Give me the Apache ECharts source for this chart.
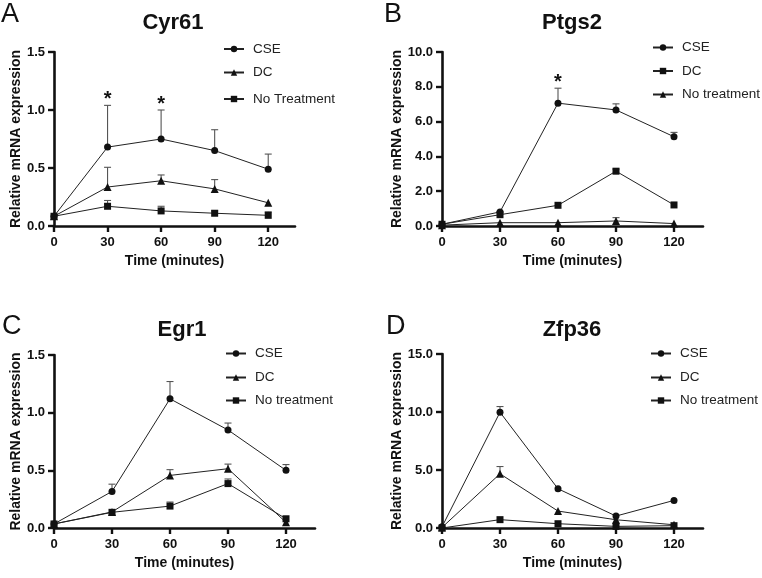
<!DOCTYPE html>
<html>
<head>
<meta charset="utf-8">
<script src="https://cdn.jsdelivr.net/npm/echarts@6/dist/echarts.min.js"></script>
<style>
html,body{margin:0;padding:0;background:#fff;}
#chart{width:762px;height:578px;}
</style>
</head>
<body>
<div id="chart"></div>
<script>
// ---------- data ----------
const timePoints = [0, 30, 60, 90, 120];
const xTicks = [0, 30, 60, 90, 120];

// Panel A: Cyr61
const cyr61_CSE = [0.084, 0.68, 0.75, 0.65, 0.49];
const cyr61_CSE_err = [0, 0.36, 0.25, 0.18, 0.13];
const cyr61_DC = [0.084, 0.336, 0.39, 0.32, 0.20];
const cyr61_DC_err = [0, 0.17, 0.05, 0.08, 0];
const cyr61_NT = [0.084, 0.17, 0.13, 0.11, 0.092];
const cyr61_NT_err = [0, 0.05, 0.04, 0.02, 0.03];
const cyr61_sig = [30, 60];

// Panel B: Ptgs2
const ptgs2_CSE = [0.10, 0.81, 7.06, 6.67, 5.13];
const ptgs2_CSE_err = [0, 0.05, 0.86, 0.35, 0.25];
const ptgs2_DC = [0.10, 0.65, 1.19, 3.15, 1.21];
const ptgs2_DC_err = [0, 0.05, 0.05, 0.12, 0.05];
const ptgs2_NT = [0.05, 0.19, 0.19, 0.29, 0.14];
const ptgs2_NT_err = [0, 0.02, 0.02, 0.19, 0.02];
const ptgs2_sig = [60];

// Panel C: Egr1
const egr1_CSE = [0.035, 0.317, 1.12, 0.85, 0.50];
const egr1_CSE_err = [0, 0.063, 0.15, 0.06, 0.05];
const egr1_DC = [0.035, 0.139, 0.456, 0.514, 0.049];
const egr1_DC_err = [0, 0.01, 0.05, 0.04, 0.01];
const egr1_NT = [0.035, 0.136, 0.19, 0.385, 0.08];
const egr1_NT_err = [0, 0.01, 0.035, 0.04, 0.01];
const egr1_sig = [];

// Panel D: Zfp36
const zfp36_CSE = [0.1, 9.98, 3.38, 1.03, 2.38];
const zfp36_CSE_err = [0, 0.49, 0.1, 0.1, 0.05];
const zfp36_DC = [0.05, 4.67, 1.46, 0.71, 0.28];
const zfp36_DC_err = [0, 0.63, 0.05, 0.05, 0.05];
const zfp36_NT = [0.0, 0.72, 0.37, 0.14, 0.20];
const zfp36_NT_err = [0, 0.05, 0.05, 0.05, 0.05];
const zfp36_sig = [];

const panelTitles = ['Cyr61', 'Ptgs2', 'Egr1', 'Zfp36'];
const panelLetters = ['A', 'B', 'C', 'D'];
const yMaxes = [1.5, 10, 1.5, 15];
const yIntervals = [0.5, 2, 0.5, 5];

// ---------- layout / style ----------
const FONT = '"Liberation Sans", Arial, Helvetica, sans-serif';
const INK = '#111';

const panels = [
  { key: 'A', grid: { left: 54, top: 52, width: 241, height: 174 }, nameGap: 30,
    title: [173, 23], letter: [1, 15], legendX: 223, legendY: [50, 73.5, 100],
    series: [
      { name: 'CSE', v: cyr61_CSE, e: cyr61_CSE_err, sym: 'circle' },
      { name: 'DC', v: cyr61_DC, e: cyr61_DC_err, sym: 'triangle' },
      { name: 'No Treatment', v: cyr61_NT, e: cyr61_NT_err, sym: 'rect' }
    ], sig: cyr61_sig },
  { key: 'B', grid: { left: 442, top: 52, width: 261, height: 174 }, nameGap: 38,
    title: [572, 23], letter: [384, 15], legendX: 652, legendY: [48.5, 72, 95.5],
    series: [
      { name: 'CSE', v: ptgs2_CSE, e: ptgs2_CSE_err, sym: 'circle' },
      { name: 'DC', v: ptgs2_DC, e: ptgs2_DC_err, sym: 'rect' },
      { name: 'No treatment', v: ptgs2_NT, e: ptgs2_NT_err, sym: 'triangle' }
    ], sig: ptgs2_sig },
  { key: 'C', grid: { left: 54, top: 355, width: 261, height: 173 }, nameGap: 30,
    title: [182, 330], letter: [2, 326.5], legendX: 225, legendY: [354.5, 378.5, 401.5],
    series: [
      { name: 'CSE', v: egr1_CSE, e: egr1_CSE_err, sym: 'circle' },
      { name: 'DC', v: egr1_DC, e: egr1_DC_err, sym: 'triangle' },
      { name: 'No treatment', v: egr1_NT, e: egr1_NT_err, sym: 'rect' }
    ], sig: egr1_sig },
  { key: 'D', grid: { left: 442, top: 354, width: 261, height: 174 }, nameGap: 38,
    title: [572, 330], letter: [386, 326.5], legendX: 650, legendY: [354.5, 378.5, 401.5],
    series: [
      { name: 'CSE', v: zfp36_CSE, e: zfp36_CSE_err, sym: 'circle' },
      { name: 'DC', v: zfp36_DC, e: zfp36_DC_err, sym: 'triangle' },
      { name: 'No treatment', v: zfp36_NT, e: zfp36_NT_err, sym: 'rect' }
    ], sig: zfp36_sig }
];

const grids = [], xAxes = [], yAxes = [], series = [], legends = [], graphics = [];

panels.forEach((p, i) => {
  grids.push(Object.assign({ containLabel: false }, p.grid));
  xAxes.push({
    type: 'value', gridIndex: i, min: 0, max: 135,
    name: 'Time (minutes)', nameLocation: 'middle', nameGap: 28,
    nameTextStyle: { fontFamily: FONT, fontWeight: 'bold', fontSize: 14, color: INK },
    axisLine: { lineStyle: { color: INK, width: 2.6 } },
    axisTick: { show: true, length: 6, lineStyle: { color: INK, width: 2.4 }, customValues: xTicks },
    axisLabel: { customValues: xTicks, margin: 10, fontFamily: FONT, fontWeight: 'bold', fontSize: 13, color: INK },
    splitLine: { show: false }
  });
  const dec = 1;
  yAxes.push({
    type: 'value', gridIndex: i, min: 0, max: yMaxes[i], interval: yIntervals[i],
    name: 'Relative mRNA expression', nameLocation: 'middle', nameGap: p.nameGap,
    nameTextStyle: { fontFamily: FONT, fontWeight: 'bold', fontSize: 14, color: INK },
    axisLine: { show: true, lineStyle: { color: INK, width: 2.6 } },
    axisTick: { show: true, length: 6, lineStyle: { color: INK, width: 2.4 } },
    axisLabel: { margin: 9, fontFamily: FONT, fontWeight: 'bold', fontSize: 13, color: INK,
      formatter: v => v.toFixed(dec) },
    splitLine: { show: false }
  });

  // error bars (drawn below lines)
  p.series.forEach(s => {
    series.push({
      type: 'custom', xAxisIndex: i, yAxisIndex: i, silent: true, z: 1,
      data: timePoints.map((t, k) => [t, s.v[k], s.v[k] + s.e[k]]),
      renderItem: (params, api) => {
        const a = api.coord([api.value(0), api.value(1)]);
        const b = api.coord([api.value(0), api.value(2)]);
        if (a[1] - b[1] < 1.5) return null;
        const st = { stroke: '#555', lineWidth: 1.1 };
        return { type: 'group', children: [
          { type: 'line', shape: { x1: a[0], y1: a[1], x2: b[0], y2: b[1] }, style: st },
          { type: 'line', shape: { x1: b[0] - 3.5, y1: b[1], x2: b[0] + 3.5, y2: b[1] }, style: st }
        ] };
      }
    });
  });

  // lines with markers
  p.series.forEach(s => {
    series.push({
      type: 'line', name: p.key + ':' + s.name, xAxisIndex: i, yAxisIndex: i, z: 3,
      data: timePoints.map((t, k) => [t, s.v[k]]),
      symbol: s.sym, symbolSize: s.sym === 'triangle' ? 8 : 7,
      showAllSymbol: true, clip: false,
      lineStyle: { color: '#222', width: 1 },
      itemStyle: { color: INK, borderWidth: 0 },
      emphasis: { disabled: true }
    });
  });

  // significance asterisks above the CSE error bar
  const cse = p.series[0];
  series.push({
    type: 'custom', xAxisIndex: i, yAxisIndex: i, silent: true, z: 4,
    data: p.sig.map(t => { const k = timePoints.indexOf(t); return [t, cse.v[k] + cse.e[k]]; }),
    renderItem: (params, api) => {
      const c = api.coord([api.value(0), api.value(1)]);
      return { type: 'text', x: c[0], y: c[1] - 6, style: { text: '*', align: 'center', verticalAlign: 'middle',
        font: 'bold 20px ' + FONT, fill: INK } };
    }
  });

  // legends (one per entry)
  p.series.forEach((s, j) => {
    legends.push({
      data: [p.key + ':' + s.name], left: p.legendX, top: p.legendY[j] - 8,
      orient: 'vertical', padding: 0, itemGap: 0, itemWidth: 20, itemHeight: 8,
      selectedMode: false,
      formatter: n => n.split(':')[1],
      textStyle: { fontFamily: FONT, fontSize: 13.5, color: '#222', padding: [0, 0, 0, 4] }
    });
  });

  graphics.push({ type: 'text', x: p.title[0], y: p.title[1],
    style: { text: panelTitles[i], align: 'center', verticalAlign: 'middle', font: 'bold 22px ' + FONT, fill: INK } });
  graphics.push({ type: 'text', x: p.letter[0], y: p.letter[1],
    style: { text: panelLetters[i], align: 'left', verticalAlign: 'middle', font: '27px ' + FONT, fill: INK } });
});

const chart = echarts.init(document.getElementById('chart'), null, { renderer: 'canvas' });
chart.setOption({
  animation: false,
  backgroundColor: '#fff',
  grid: grids, xAxis: xAxes, yAxis: yAxes, series: series, legend: legends,
  graphic: graphics
});
</script>
</body>
</html>
